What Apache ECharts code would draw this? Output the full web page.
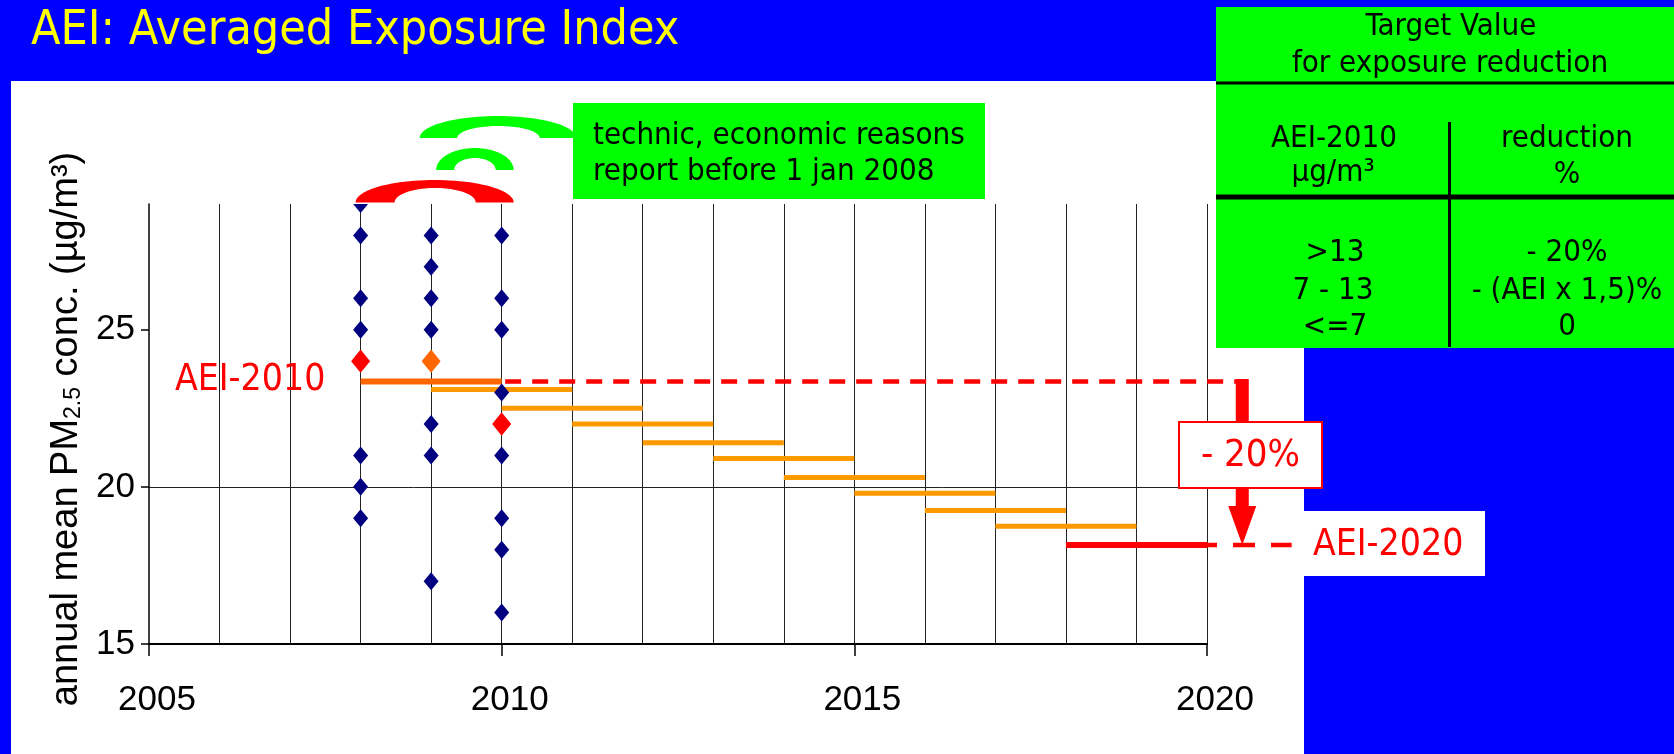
<!DOCTYPE html>
<html><head><meta charset="utf-8">
<script src="https://cdn.jsdelivr.net/npm/echarts@6/dist/echarts.min.js"></script>
<style>html,body{margin:0;padding:0;background:#0000ff;overflow:hidden;} #c{width:1674px;height:754px;}</style>
</head><body><div id="c"></div>
<script>
const TAHOMA = '"DejaVu Sans Condensed", "DejaVu Sans", sans-serif';
const ARIAL = '"Liberation Sans", Arial, sans-serif';

// ---- data ----
const xTickLabels = ['2005', '2010', '2015', '2020'];
const yTickLabels = ['15', '20', '25'];
const stationYears = [2008, 2009, 2010];
const stations2008 = [29, 28, 26, 25, 21, 20, 19];
const stations2009 = [28, 27, 26, 25, 22, 21, 17];
const stations2010 = [28, 26, 25, 23, 21, 19, 18, 16];
const aeiYears = [2008, 2009, 2010];
const aeiYearValues = [24, 24, 22];
const avgStartYears = [2008, 2009, 2010, 2011, 2012, 2013, 2014, 2015, 2016, 2017, 2018];
const avgEndYears = [2010, 2011, 2012, 2013, 2014, 2015, 2016, 2017, 2018, 2019, 2020];
const avgValues = [23.35, 23.1, 22.5, 22.0, 21.4, 20.9, 20.3, 19.8, 19.25, 18.75, 18.15];
const aei2010 = 23.35;
const aei2020 = 18.15;
const levelStartYears = [2010.05, 2019.83];
const levelEndYears = [2020.42, 2021.2];
const levelValues = [aei2010, aei2020];
const arrowYear = 2020.5;

// ---- styles ----
const aeiDiamondColors = ['#FF0000', '#FF6600', '#FF0000'];
const levelDashes = [[16, 11], [22, 16]];

const stationData = [];
[stations2008, stations2009, stations2010].forEach((arr, i) => {
  arr.forEach(v => stationData.push([stationYears[i], v]));
});
const aeiData = aeiYears.map((y, i) => [y, aeiYearValues[i]]);
const segData = avgStartYears.map((s, i) => [s, avgEndYears[i], avgValues[i]]);
const levelData = levelStartYears.map((s, i) => [s, levelEndYears[i], levelValues[i]]);

function diamond(api, w, h, fill) {
  const p = api.coord([api.value(0), api.value(1)]);
  return {type: 'polygon', shape: {points: [[p[0], p[1] - h], [p[0] + w, p[1]], [p[0], p[1] + h], [p[0] - w, p[1]]]}, style: {fill: fill}};
}

const chart = echarts.init(document.getElementById('c'), null, {renderer: 'canvas'});

const tableTexts = [
  ['Target Value', 1451, 27], ['for exposure reduction', 1450, 64],
  ['AEI-2010', 1334, 139], ['µg/m³', 1333, 173], ['reduction', 1567, 139], ['%', 1567, 175],
  ['>13', 1335, 253], ['7 - 13', 1333, 291], ['<=7', 1335, 327],
  ['- 20%', 1567, 253], ['- (AEI x 1,5)%', 1567, 291], ['0', 1567, 327]
];

const graphics = [
  {id: 'bgWhite', type: 'rect', z: -100, shape: {x: 11, y: 81, width: 1293, height: 673}, style: {fill: '#FFFFFF'}},
  {id: 'aei2020Box', type: 'rect', z: -90, shape: {x: 1290, y: 511, width: 195, height: 65}, style: {fill: '#FFFFFF'}},
  {id: 'tableBg', type: 'rect', z: -90, shape: {x: 1216, y: 7, width: 458, height: 341}, style: {fill: '#00FF00'}},
  {id: 'tl1', type: 'line', z: 5, shape: {x1: 1216, y1: 83, x2: 1674, y2: 83}, style: {stroke: '#000', lineWidth: 3}},
  {id: 'tl2', type: 'line', z: 5, shape: {x1: 1216, y1: 197, x2: 1674, y2: 197}, style: {stroke: '#000', lineWidth: 5}},
  {id: 'tl3', type: 'line', z: 5, shape: {x1: 1449.5, y1: 122, x2: 1449.5, y2: 347}, style: {stroke: '#000', lineWidth: 3}},
  {id: 'infoBox', type: 'rect', z: 10, shape: {x: 573, y: 103, width: 412, height: 96}, style: {fill: '#00FF00'}},
  {id: 'info1', type: 'text', z: 11, x: 593, y: 136, style: {text: 'technic, economic reasons', fill: '#000', font: '31px ' + TAHOMA, textAlign: 'left', textVerticalAlign: 'middle'}},
  {id: 'info2', type: 'text', z: 11, x: 593, y: 172, style: {text: 'report before 1 jan 2008', fill: '#000', font: '31px ' + TAHOMA, textAlign: 'left', textVerticalAlign: 'middle'}},
  {id: 'pctBox', type: 'rect', z: 50, shape: {x: 1179, y: 422, width: 143, height: 66}, style: {fill: '#FFFFFF', stroke: '#FF0000', lineWidth: 2}},
  {id: 'pctText', type: 'text', z: 51, x: 1250.5, y: 456, style: {text: '- 20%', fill: '#FF0000', font: '38px ' + TAHOMA, textAlign: 'center', textVerticalAlign: 'middle'}},
  {id: 'lbl2010', type: 'text', z: 20, x: 175, y: 380, style: {text: 'AEI-2010', fill: '#FF0000', font: '37px ' + TAHOMA, textAlign: 'left', textVerticalAlign: 'middle'}},
  {id: 'lbl2020', type: 'text', z: 20, x: 1313, y: 545, style: {text: 'AEI-2020', fill: '#FF0000', font: '37px ' + TAHOMA, textAlign: 'left', textVerticalAlign: 'middle'}}
];
tableTexts.forEach((t, i) => graphics.push({id: 'tt' + i, type: 'text', z: 6, x: t[1], y: t[2], style: {text: t[0], fill: '#000', font: '31px ' + TAHOMA, textAlign: 'center', textVerticalAlign: 'middle'}}));

const option = {
  backgroundColor: '#0000FF',
  animation: false,
  title: {text: 'AEI: Averaged Exposure Index', left: 31, top: 8, padding: 0,
    textStyle: {color: '#FFFF00', fontSize: 48, fontWeight: 'normal', fontFamily: TAHOMA}},
  grid: {left: 149, right: 467, top: 204, bottom: 110, containLabel: false},
  xAxis: {
    type: 'value', min: 2005, max: 2020, interval: 5,
    axisLine: {show: true, onZero: false, lineStyle: {color: '#000', width: 2}},
    axisTick: {show: true, length: 12, lineStyle: {color: '#000', width: 1.5}},
    minorTick: {show: false, splitNumber: 5},
    splitLine: {show: true, showMinLine: false, lineStyle: {color: '#222', width: 1}},
    minorSplitLine: {show: true, lineStyle: {color: '#222', width: 1}},
    axisLabel: {fontSize: 35, fontFamily: ARIAL, color: '#000', margin: 39, padding: [0, 0, 0, 16],
      formatter: v => xTickLabels[Math.round((v - 2005) / 5)] || ''}
  },
  yAxis: {
    type: 'value', min: 15, max: 29, interval: 5,
    axisLine: {show: true, lineStyle: {color: '#000', width: 1.5}},
    axisTick: {show: true, length: 8, customValues: [15, 20, 25], lineStyle: {color: '#000', width: 1.5}},
    splitLine: {show: true, showMinLine: false, showMaxLine: false, lineStyle: {color: '#222', width: 1}},
    axisLabel: {fontSize: 35, fontFamily: ARIAL, color: '#000', margin: 14, showMaxLabel: false,
      formatter: v => yTickLabels[Math.round((v - 15) / 5)] || ''},
    name: '{a|annual mean PM}{b|2.5}{a| conc. (µg/m³)}',
    nameLocation: 'middle', nameGap: 53,
    nameTextStyle: {color: '#000', fontFamily: ARIAL, fontSize: 38, padding: [0, 10, 0, 0],
      rich: {a: {fontSize: 38, fontFamily: ARIAL, color: '#000'},
             b: {fontSize: 23, fontFamily: ARIAL, color: '#000', verticalAlign: 'bottom'}}}
  },
  series: [
    {
      name: '3-year average', type: 'custom', clip: false, z: 3,
      data: segData,
      encode: {x: [0, 1], y: 2},
      renderItem: (params, api) => {
        const a = api.coord([api.value(0), api.value(2)]);
        const b = api.coord([api.value(1), api.value(2)]);
        const i = params.dataIndex, n = segData.length;
        const color = i === 0 ? '#FF6600' : (i === n - 1 ? '#FF0000' : '#FF9900');
        return {type: 'line', shape: {x1: a[0], y1: a[1], x2: b[0], y2: b[1]},
          style: {stroke: color, lineWidth: (i === 0 || i === n - 1) ? 6 : 5, lineCap: 'butt'}};
      }
    },
    {
      name: 'AEI levels', type: 'custom', clip: false, z: 3,
      data: levelData,
      encode: {x: [0, 1], y: 2},
      renderItem: (params, api) => {
        const a = api.coord([api.value(0), api.value(2)]);
        const b = api.coord([api.value(1), api.value(2)]);
        return {type: 'line', shape: {x1: a[0], y1: a[1], x2: b[0], y2: b[1]},
          style: {stroke: '#FF0000', lineWidth: 4.5, lineDash: levelDashes[params.dataIndex], lineCap: 'butt'}};
      }
    },
    {
      name: 'stations', type: 'custom', clip: true, z: 4,
      data: stationData, encode: {x: 0, y: 1},
      renderItem: (params, api) => diamond(api, 7.5, 9, '#000080')
    },
    {
      name: 'AEI per year', type: 'custom', clip: true, z: 5,
      data: aeiData, encode: {x: 0, y: 1},
      renderItem: (params, api) => diamond(api, 9.5, 11.7, aeiDiamondColors[params.dataIndex])
    },
    {
      name: 'reduction arrow', type: 'custom', clip: false, z: 6,
      data: [[arrowYear, aei2010, aei2020]], encode: {x: 0, y: [1, 2]},
      renderItem: (params, api) => {
        const t = api.coord([api.value(0), api.value(1)]);
        const b = api.coord([api.value(0), api.value(2)]);
        const x = t[0], hw = 6.5, hh = 14, hl = 39;
        return {type: 'polygon', shape: {points: [
          [x - hw, t[1] - 2.5], [x + hw, t[1] - 2.5], [x + hw, b[1] - hl], [x + hh, b[1] - hl],
          [x, b[1]], [x - hh, b[1] - hl], [x - hw, b[1] - hl]]}, style: {fill: '#FF0000'}};
      }
    }
  ],
  graphic: {elements: graphics}
};
chart.setOption(option);

// brackets above the monitoring years, anchored on the axes
function archPoints(L, R, iL, iR, bottom, oTop, iTop) {
  const pts = [], N = 48;
  const cx = (L + R) / 2, rx = (R - L) / 2, ry = bottom - oTop;
  for (let i = 0; i <= N; i++) { const t = Math.PI * (1 - i / N); pts.push([cx + rx * Math.cos(t), bottom - ry * Math.sin(t)]); }
  const icx = (iL + iR) / 2, irx = (iR - iL) / 2, iry = bottom - iTop;
  for (let i = 0; i <= N; i++) { const t = Math.PI * (i / N); pts.push([icx + irx * Math.cos(t), bottom - iry * Math.sin(t)]); }
  return pts;
}
const xp = v => chart.convertToPixel({xAxisIndex: 0}, v);
const topPx = chart.convertToPixel({yAxisIndex: 0}, 29);
chart.setOption({graphic: {elements: [
  {id: 'arcRed', type: 'polygon', z: 12, shape: {points: archPoints(xp(2008) - 5, xp(2010) + 12, xp(2008) + 34, xp(2010) - 26, topPx - 1.5, topPx - 24, topPx - 16)}, style: {fill: '#FF0000'}},
  {id: 'arcGreenS', type: 'polygon', z: 12, shape: {points: archPoints(xp(2009) + 5, xp(2010) + 12, xp(2009) + 23, xp(2010) - 6, topPx - 34, topPx - 56, topPx - 46)}, style: {fill: '#00FF00'}},
  {id: 'arcGreenL', type: 'polygon', z: 9, shape: {points: archPoints(xp(2008) + 59, xp(2011) + 4, xp(2009) + 26, xp(2010) + 38, topPx - 66, topPx - 88, topPx - 78)}, style: {fill: '#00FF00'}}
]}});
</script></body></html>
